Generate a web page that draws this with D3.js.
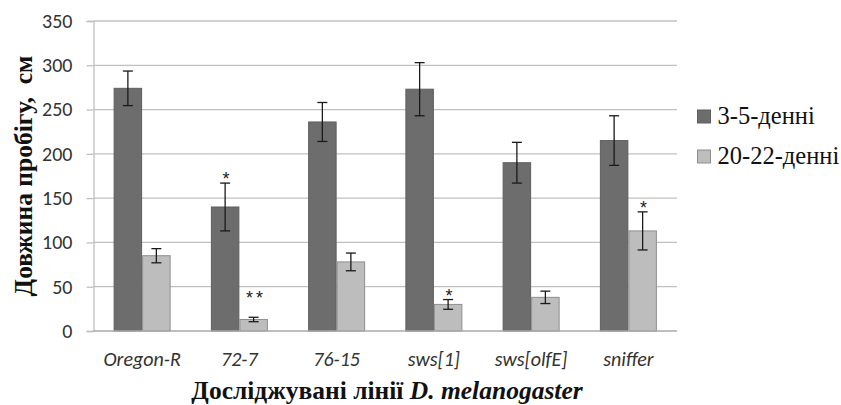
<!DOCTYPE html>
<html><head><meta charset="utf-8">
<script src="https://cdn.jsdelivr.net/npm/d3@7"></script>
<style>body{margin:0;background:#fff;}svg{display:block;}</style>
</head><body>
<svg id="c" width="841" height="405"></svg>
<script>
const categories = ["Oregon-R", "72-7", "76-15", "sws[1]", "sws[olfE]", "sniffer"];
const seriesNames = ["3-5-денні", "20-22-денні"];
const young = [274, 140, 236, 273, 190, 215];
const youngErr = [19.5, 27, 22, 30, 23, 28];
const old = [85, 13, 78, 30, 38, 113];
const oldErr = [8, 2.5, 10, 5.5, 7, 21.5];
const youngSig = ["", "*", "", "", "", ""];
const oldSig = ["", "**", "", "*", "", "*"];
const yTicks = [0, 50, 100, 150, 200, 250, 300, 350];

const svg = d3.select("#c");
const M = {l: 93.5, r: 677, t: 21, b: 331};
const x = d3.scaleBand().domain(categories).range([M.l, M.r]).padding(0);
const y = d3.scaleLinear().domain([0, 350]).range([M.b, M.t]);
const barW = 28.5;
const colors = ["#6d6d6d", "#bdbdbd"];
const strokes = ["#5f5f5f", "#8e8e8e"];
const sansFont = "Carlito, 'Open Sans', sans-serif";
const serifFont = "'Liberation Serif', 'Times New Roman', serif";

// gridlines
svg.append("g").selectAll("line").data(yTicks.filter(d => d > 0)).join("line")
  .attr("x1", M.l).attr("x2", M.r).attr("y1", d => y(d)).attr("y2", d => y(d))
  .attr("stroke", "#c0c0c0").attr("stroke-width", 1.3);

// y axis with outward ticks
const yAxis = d3.axisLeft(y).tickValues(yTicks).tickSize(7).tickPadding(14);
const ya = svg.append("g").attr("transform", `translate(${M.l},0)`).call(yAxis);
ya.select(".domain").attr("stroke", "#c0c0c0").attr("stroke-width", 1.3);
ya.selectAll(".tick line").attr("stroke", "#c0c0c0").attr("stroke-width", 1.3);
ya.selectAll("text").attr("font-family", sansFont).attr("font-size", 20).attr("fill", "#333");

const series = [
  {vals: young, err: youngErr, sig: youngSig, off: -barW},
  {vals: old, err: oldErr, sig: oldSig, off: 0}
];
series.forEach((s, si) => {
  svg.append("g").selectAll("rect").data(categories).join("rect")
    .attr("x", (c) => x(c) + x.bandwidth() / 2 + s.off + 0.5)
    .attr("y", (c, i) => y(s.vals[i]))
    .attr("width", barW - 1)
    .attr("height", (c, i) => y(0) - y(s.vals[i]))
    .attr("fill", colors[si]).attr("stroke", strokes[si]).attr("stroke-width", 1);
});

// x axis baseline
svg.append("line").attr("x1", M.l).attr("x2", M.r).attr("y1", y(0)).attr("y2", y(0))
  .attr("stroke", "#a8a8a8").attr("stroke-width", 1.3);

series.forEach((s, si) => {
  const g = svg.append("g").attr("stroke", "#1a1a1a").attr("stroke-width", 1.3);
  categories.forEach((c, i) => {
    const cx = x(c) + x.bandwidth() / 2 + s.off + barW / 2;
    const hi = y(s.vals[i] + s.err[i]), lo = y(s.vals[i] - s.err[i]);
    g.append("line").attr("x1", cx).attr("x2", cx).attr("y1", hi).attr("y2", lo);
    g.append("line").attr("x1", cx - 5).attr("x2", cx + 5).attr("y1", hi).attr("y2", hi);
    g.append("line").attr("x1", cx - 5).attr("x2", cx + 5).attr("y1", lo).attr("y2", lo);
    if (s.sig[i]) {
      const dbl = s.sig[i].length > 1;
      svg.append("text").attr("x", cx + (dbl ? 2.5 : 1)).attr("y", hi + 2 - (dbl ? 15 : 0))
        .attr("text-anchor", "middle").attr("font-family", "'Liberation Sans', Arial, sans-serif")
        .attr("letter-spacing", dbl ? 3 : 0)
        .attr("font-size", 18).attr("fill", "#222").text(s.sig[i]);
    }
  });
});

// category labels
svg.append("g").selectAll("text").data(categories).join("text")
  .attr("x", c => x(c) + x.bandwidth() / 2).attr("y", 366)
  .attr("text-anchor", "middle").attr("font-family", sansFont)
  .attr("font-style", "italic").attr("font-size", 20).attr("fill", "#333").text(c => c);

// axis titles
const xt = svg.append("text").attr("x", 387).attr("y", 399)
  .attr("text-anchor", "middle").attr("font-family", serifFont)
  .attr("font-weight", "bold").attr("font-size", 25.5).attr("fill", "#111");
xt.append("tspan").text("Досліджувані лінії ");
xt.append("tspan").attr("font-style", "italic").text("D. melanogaster");

svg.append("text").attr("transform", `translate(32,${(M.t + M.b) / 2}) rotate(-90)`)
  .attr("text-anchor", "middle").attr("font-family", serifFont)
  .attr("font-weight", "bold").attr("font-size", 25.5).attr("fill", "#111")
  .style("white-space", "pre").text("Довжина пробігу,  см");

// legend
const lg = svg.append("g");
seriesNames.forEach((n, i) => {
  const yy = 110 + i * 40;
  lg.append("rect").attr("x", 697.5).attr("y", yy).attr("width", 13).attr("height", 13)
    .attr("fill", colors[i]).attr("stroke", strokes[i]).attr("stroke-width", 1);
  lg.append("text").attr("x", 717.5).attr("y", yy + 14)
    .attr("font-family", serifFont).attr("font-size", 24.5).attr("fill", "#111").text(n);
});
</script>
</body></html>
